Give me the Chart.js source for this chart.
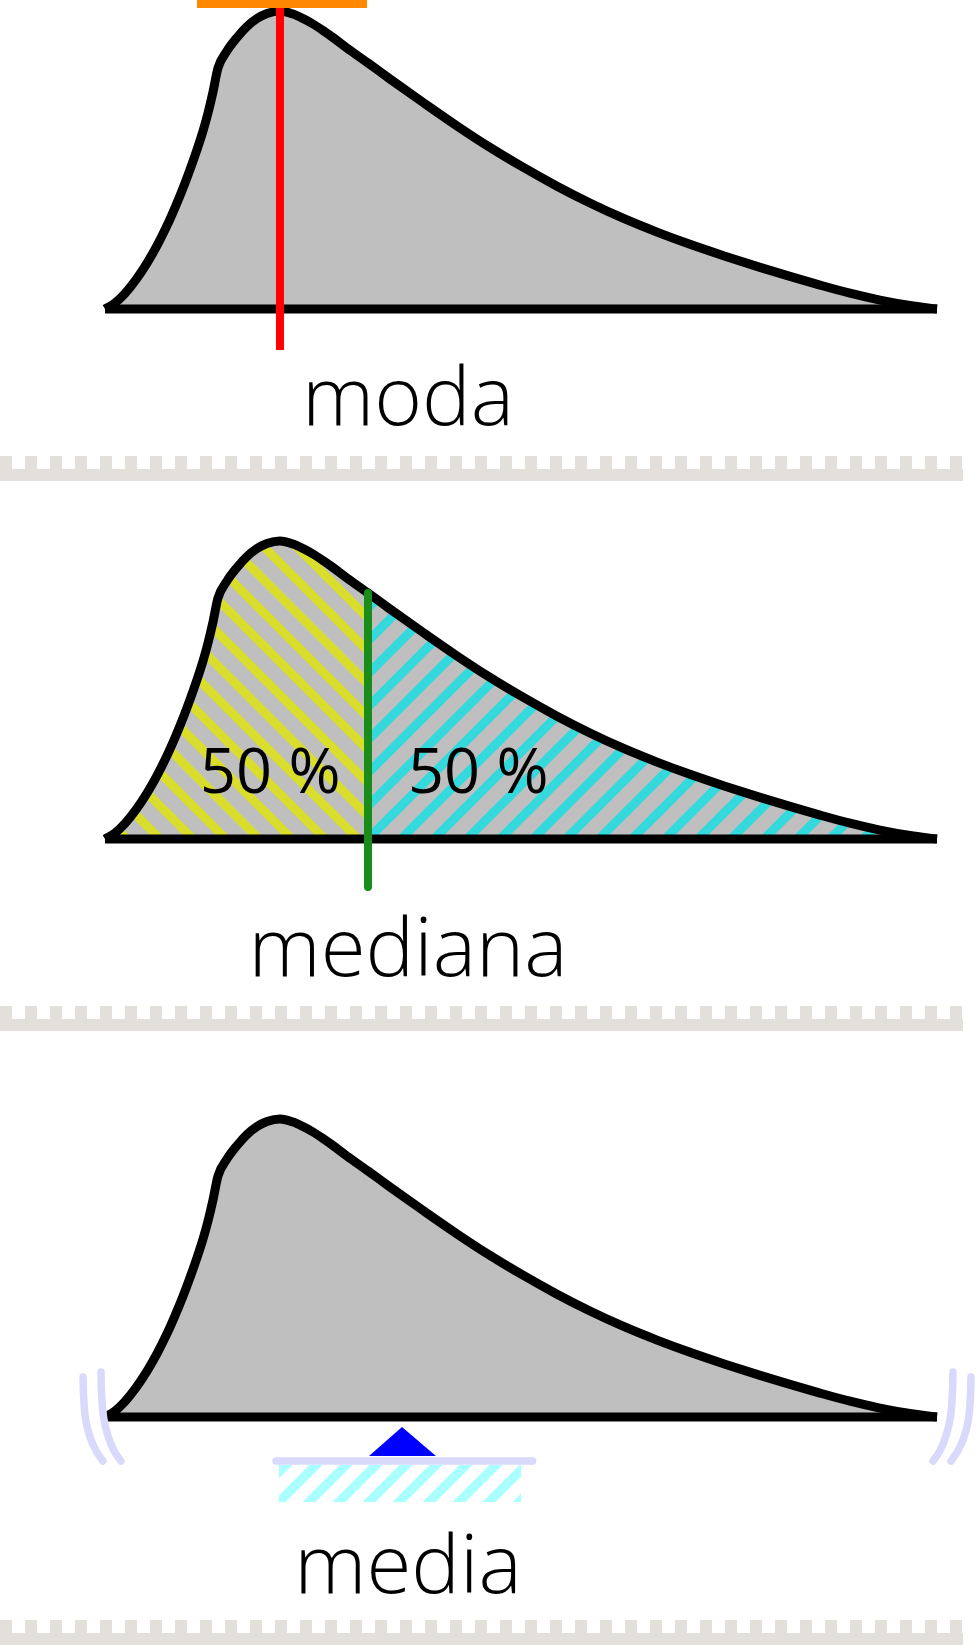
<!DOCTYPE html>
<html><head><meta charset="utf-8">
<script src="https://cdn.jsdelivr.net/npm/chart.js@4.4.1/dist/chart.umd.min.js"></script>
<style>
html,body{margin:0;padding:0;background:#fff;}
body{width:976px;height:1645px;position:relative;overflow:hidden;}
canvas{position:absolute;left:0;}
.teeth{position:absolute;left:0;width:962.5px;height:12.5px;background:repeating-linear-gradient(to right,#e3dfda 0 12.5px,transparent 12.5px 25px);}
.base{position:absolute;left:0;width:962.5px;height:12.5px;background:#e3dfda;}
</style></head><body>
<canvas id="c1" width="976" height="456" style="top:0px"></canvas>
<canvas id="c2" width="976" height="525" style="top:481px"></canvas>
<canvas id="c3" width="976" height="589" style="top:1031px"></canvas>
<div class="teeth" style="top:456px"></div><div class="base" style="top:468.5px"></div>
<div class="teeth" style="top:1006px"></div><div class="base" style="top:1018.5px"></div>
<div class="teeth" style="top:1620px"></div><div class="base" style="top:1632.5px"></div>
<script>
// ---- data (x in arbitrary units 0..100, density with peak = 100) ----
const curveX = [0,1.20,2.40,3.73,5.05,6.25,7.45,8.41,9.38,10.22,11.06,11.78,12.38,12.98,13.58,14.66,15.87,17.07,18.27,19.47,21.03,22.60,23.80,25.00,26.20,27.40,29.09,31.61,34.25,38.22,42.31,46.27,50.24,54.33,58.29,62.26,66.35,70.31,74.52,78.73,82.33,85.94,89.54,93.15,96.75,100];
const curveY = [0,2.01,5.20,9.83,15.37,21.24,27.95,33.99,40.57,46.81,53.49,59.73,65.77,72.82,80.87,86.58,91.11,94.80,97.48,99.16,100,98.99,97.48,95.64,93.46,91.11,87.58,82.55,77.18,69.33,61.44,54.23,47.58,41.21,35.57,30.47,25.81,21.71,17.72,13.96,10.94,8.02,5.30,2.99,1.17,0];
const baselineX = [0, 100];
const modeX = 21.03;
const modeLineY = [104, -13.76];
const modeBarX = [11.06, 31.5];
const modeBarY = 102.35;
const medianX = 31.61;
const medianLineY = [82.55, -16.1];
const meanX = 35.7;
const meanTriX = [31.73, meanX, 39.78];
const meanTriY = [-13.09, -3.36, -13.09];
const beamX = [20.55, 51.4];
const beamY = -14.77;
const supportX = [20.9, 50.0];
const supportY = [-16.1, -28.5];
const wobbleInnerLX = [-0.48,-0.40,-0.16,0.40,1.10,1.92];
const wobbleOuterLX = [-2.64,-2.56,-2.32,-1.76,-1.06,-0.24];
const wobbleInnerRX = [101.92,101.84,101.60,101.04,100.34,99.52];
const wobbleOuterRX = [104.09,104.01,103.77,103.21,102.50,101.68];
const wobbleInnerY = [15.1,7.38,-0.34,-6.71,-11.41,-14.77];
const wobbleOuterY = [13.42,6.38,-1.01,-7.05,-11.41,-14.77];
const labels = ['moda', 'mediana', 'media'];
const halfLabel = '50 %';

// ---- layout ----
const K = 2.98;      // px per density unit
const XU = 8.32;     // px per x unit
const X0 = 105;      // px of x = 0
const W = 976;

const pts = (xs, ys) => xs.map((x, i) => ({x, y: Array.isArray(ys) ? ys[i] : ys}));
const curvePts = pts(curveX, curveY);

// pick a family that really has a light face
const mctx = document.createElement('canvas').getContext('2d');
function pickLight() {
  const fams = ['"Open Sans"', '"Noto Sans"', 'Lato', 'Roboto', 'Inter'];
  for (const f of fams) {
    mctx.font = '300 88px ' + f; const a = mctx.measureText('mediana').width;
    mctx.font = '400 88px ' + f; const b = mctx.measureText('mediana').width;
    if (Math.abs(a - b) > 0.5) return f;
  }
  return '"Open Sans"';
}
const lightFam = pickLight();
mctx.font = '300 88px ' + lightFam;
const bigSize = 88 * 319 / mctx.measureText('mediana').width;
const bigFont = '300 ' + bigSize.toFixed(1) + 'px ' + lightFam + ', sans-serif';
const midFont = '400 63px "Open Sans", "Noto Sans", sans-serif';

function pattern(bg, fg, P, w, dir) {
  const c = document.createElement('canvas');
  c.width = P; c.height = P;
  const g = c.getContext('2d');
  if (bg) { g.fillStyle = bg; g.fillRect(0, 0, P, P); }
  g.strokeStyle = fg; g.lineWidth = w; g.lineCap = 'square';
  g.beginPath();
  for (const k of [-1, 0, 1]) {
    if (dir === 'back') { g.moveTo(k * P, 0); g.lineTo(k * P + P, P); }
    else { g.moveTo(k * P, P); g.lineTo(k * P + P, 0); }
  }
  g.stroke();
  return g.createPattern(c, 'repeat');
}

const lineDs = (data, color, width, extra) => Object.assign({
  data, borderColor: color, borderWidth: width, pointRadius: 0, fill: false,
  clip: false, tension: 0
}, extra || {});

function textPlugin(items) {
  return {
    id: 'txt',
    afterDraw(chart) {
      const ctx = chart.ctx;
      ctx.save();
      ctx.fillStyle = '#000';
      for (const it of items) {
        ctx.font = it.font;
        ctx.textAlign = it.align;
        ctx.textBaseline = 'alphabetic';
        ctx.fillText(it.text, it.x, it.y);
      }
      ctx.restore();
    }
  };
}

function makeChart(id, H, base, datasets, texts) {
  const canvas = document.getElementById(id);
  return new Chart(canvas, {
    type: 'line',
    data: { datasets },
    options: {
      responsive: false, animation: false, events: [],
      layout: { padding: 0 },
      plugins: { legend: { display: false }, tooltip: { enabled: false }, filler: { propagate: false } },
      scales: {
        x: { type: 'linear', display: false, min: -X0 / XU, max: (W - X0) / XU },
        y: { type: 'linear', display: false, min: (base - H) / K, max: base / K }
      }
    },
    plugins: [textPlugin(texts)]
  });
}

const curveStroke = () => lineDs(curvePts, '#000', 9, { cubicInterpolationMode: 'monotone', order: 8 });
const baseLine = () => lineDs(pts(baselineX, 0), '#000', 9, { order: 7 });

// Panel 1: mode
makeChart('c1', 456, 309, [
  lineDs(pts([modeBarX[0], modeBarX[1]], modeBarY), '#ff8800', 8, { order: 1 }),
  lineDs(pts([modeX, modeX], modeLineY), '#ff0000', 8, { order: 2 }),
  baseLine(),
  lineDs(curvePts, '#000', 9, { cubicInterpolationMode: 'monotone', fill: 'origin', backgroundColor: '#bfbfbf', order: 8 })
], [{ text: labels[0], x: 408, y: 425, font: bigFont, align: 'center' }]);

// Panel 2: median
const yellowPat = pattern('#bfbfbf', '#d9dd2b', 33, 9, 'back');
const cyanPat = pattern('#bfbfbf', '#33d9dd', 33, 9, 'fwd');
const leftPts = curvePts.filter(p => p.x <= medianX);
const rightPts = curvePts.filter(p => p.x >= medianX);
makeChart('c2', 525, 358, [
  lineDs(pts([medianX, medianX], medianLineY), '#1a8c1a', 8, { borderCapStyle: 'round', order: 1 }),
  baseLine(),
  curveStroke(),
  lineDs(leftPts, 'rgba(0,0,0,0)', 0, { cubicInterpolationMode: 'monotone', fill: 'origin', backgroundColor: yellowPat, order: 10 }),
  lineDs(rightPts, 'rgba(0,0,0,0)', 0, { cubicInterpolationMode: 'monotone', fill: 'origin', backgroundColor: cyanPat, order: 10 })
], [
  { text: labels[1], x: 408, y: 495, font: bigFont, align: 'center' },
  { text: halfLabel, x: 200, y: 312, font: midFont, align: 'left' },
  { text: halfLabel, x: 408, y: 312, font: midFont, align: 'left' }
]);

// Panel 3: mean
const lightCyanPat = pattern(null, '#aaffff', 30, 9.2, 'fwd');
const wob = '#d9d9fb';
makeChart('c3', 589, 386, [
  lineDs(pts(meanTriX, meanTriY), 'rgba(0,0,0,0)', 0, { fill: { value: meanTriY[0] }, backgroundColor: '#0000ff', order: 1 }),
  lineDs(pts(beamX, beamY), wob, 7.5, { borderCapStyle: 'round', order: 2 }),
  lineDs(pts(supportX, supportY[0]), 'rgba(0,0,0,0)', 0, { fill: { value: supportY[1] }, backgroundColor: lightCyanPat, order: 3 }),
  lineDs(pts(wobbleInnerLX, wobbleInnerY), wob, 7.5, { borderCapStyle: 'round', tension: 0.4, order: 4 }),
  lineDs(pts(wobbleOuterLX, wobbleOuterY), wob, 7.5, { borderCapStyle: 'round', tension: 0.4, order: 4 }),
  lineDs(pts(wobbleInnerRX, wobbleInnerY), wob, 7.5, { borderCapStyle: 'round', tension: 0.4, order: 4 }),
  lineDs(pts(wobbleOuterRX, wobbleOuterY), wob, 7.5, { borderCapStyle: 'round', tension: 0.4, order: 4 }),
  baseLine(),
  lineDs(curvePts, '#000', 9, { cubicInterpolationMode: 'monotone', fill: 'origin', backgroundColor: '#bfbfbf', order: 8 })
], [{ text: labels[2], x: 408, y: 562, font: bigFont, align: 'center' }]);
</script>
</body></html>
